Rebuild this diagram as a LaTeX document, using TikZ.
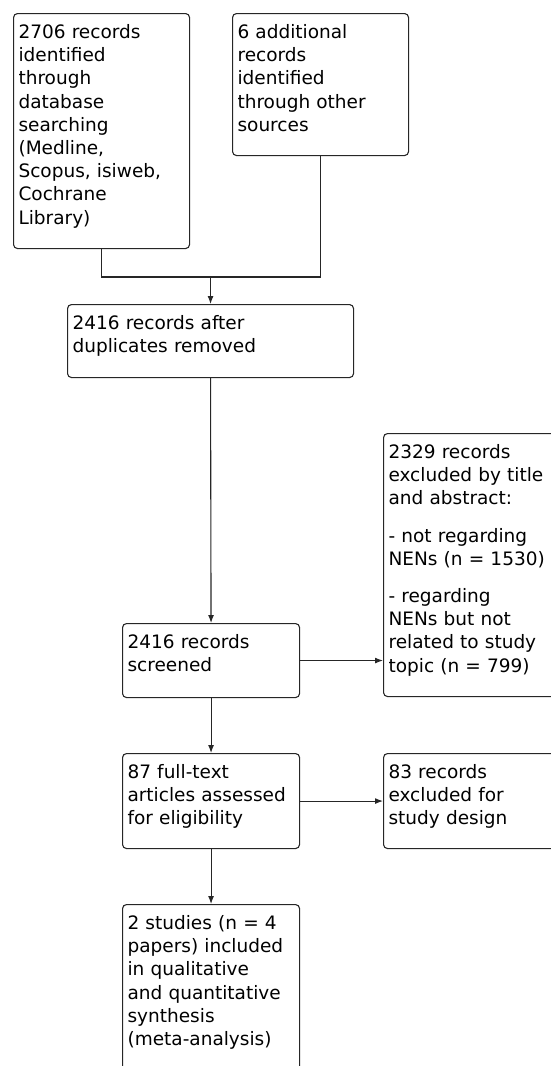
\documentclass[tikz,border=0pt]{standalone}
\usepackage{fontspec}
\setmainfont{DejaVu Sans}
\usetikzlibrary{arrows.meta}
\tikzset{
  box/.style={draw=black!85, line width=1.1pt, rounded corners=4pt, anchor=north west,
    inner sep=5pt, align=left, text height=20pt,
    font=\fontsize{18.5}{23.2}\selectfont},
  arr/.style={draw=black!85, line width=1.1pt, -{Latex[length=8pt,width=6pt]}},
  link/.style={draw=black!85, line width=1.1pt}
}
\begin{document}
\begin{tikzpicture}[x=1pt,y=-1pt]
\useasboundingbox (0,0) rectangle (551,1066);
\clip (0,0) rectangle (551,1066);
\node[box, text width=166pt, text depth=205pt] (db) at (13,13) {2706 records\\identified\\through\\database\\searching\\(Medline,\\Scopus, isiweb,\\Cochrane\\Library)};
\node[box, text width=166pt, text depth=112pt] (other) at (232,13) {6 additional\\records\\identified\\through other\\sources};
\node[box, text width=276pt, text depth=43pt] (dupl) at (67,304) {2416 records after\\duplicates removed};
\node[box, text width=167pt, text depth=44pt] (screen) at (122,623) {2416 records\\screened};
\node[box, text width=167pt, text depth=233pt] (excl) at (383,433) {2329 records\\excluded by title\\and abstract:\\[14pt]- not regarding\\NENs (n = 1530)\\[14pt]- regarding\\NENs but not\\related to study\\topic (n = 799)};
\node[box, text width=167pt, text depth=65pt] (full) at (122,753) {87 full-text\\articles assessed\\for eligibility};
\node[box, text width=167pt, text depth=65pt] (design) at (383,753) {83 records\\excluded for\\study design};
\node[box, text width=167pt, text depth=150pt] (incl) at (122,904) {2 studies (n = 4\\papers) included\\in qualitative\\and quantitative\\synthesis\\(meta-analysis)};
\coordinate (join) at (dupl.north |- 0,277);
\path[link] (db.south) |- (join) -| (other.south);
\path[arr] (join) -- (dupl.north);
\path[arr] (dupl.south) -- (screen.north);
\path[arr] (screen.east) -- (screen.east -| excl.west);
\path[arr] (screen.south) -- (full.north);
\path[arr] (full.east) -- (design.west);
\path[arr] (full.south) -- (incl.north);
\end{tikzpicture}
\end{document}
